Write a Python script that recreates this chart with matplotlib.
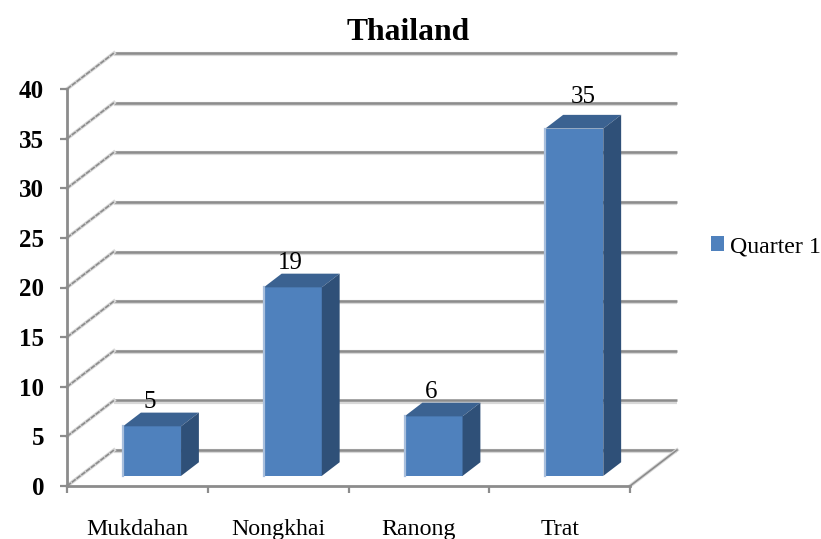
#!/usr/bin/env python
"""Thailand quarter 1 bar chart, drawn in the old office 3D look."""

import matplotlib
matplotlib.use('Agg')
import matplotlib.pyplot as plt
from matplotlib.patches import Polygon

categories = ['Mukdahan', 'Nongkhai', 'Ranong', 'Trat']
quarter1 = [5, 19, 6, 35]
y_ticks = [0, 5, 10, 15, 20, 25, 30, 35, 40]
series_name = 'Quarter 1'

plt.rcParams['font.family'] = ['Liberation Serif', 'DejaVu Serif']

W, H = 821, 539
GRID = '#8c8c8c'
SHADOW = '#d8d8d8'
FRONT = '#4f81bd'
TOP = '#3b6291'
SIDE = '#2f5078'
EDGE = '#a9bfdc'

fig = plt.figure(figsize=(W / 100, H / 100), dpi=100)
ax = fig.add_axes([67 / W, (H - 486) / H, 563 / W, 397 / H])
ax.set_xlim(0, len(categories))
ax.set_ylim(0, 40)

# pixel sizes converted to data units
px_x = len(categories) / 563
px_y = 40 / 397
depth_x = 47 * px_x
depth_y = 36 * px_y


def project(x, y, depth):
    """Move a point from the front plane towards the back wall."""
    return (x + depth * depth_x, y + depth * depth_y)


# back wall gridlines and the slanted lines on the side wall
for v in y_ticks:
    for color, lw, off in [(SHADOW, 3.0, -1.2), (GRID, 1.8, 0)]:
        xb, yb = project(0, v + off * px_y, 1)
        xe, ye = project(len(categories), v + off * px_y, 1)
        ax.plot([xb, xe], [yb, ye], color=color, lw=lw, zorder=1,
                clip_on=False, solid_capstyle='butt')
    xb, yb = project(0, v, 1)
    ax.plot([0, xb], [v, yb], color=SHADOW, lw=2.6, zorder=1, clip_on=False)
    ax.plot([0, xb], [v, yb], color=GRID, lw=1.2, ls=(0, (3, 0.6)), zorder=1.1, clip_on=False)

# floor edge on the right
xb, yb = project(len(categories), 0, 1)
ax.plot([len(categories), xb], [0, yb], color=SHADOW, lw=2.6, zorder=1, clip_on=False)
ax.plot([len(categories), xb], [0, yb], color=GRID, lw=1.2, zorder=1.1, clip_on=False)

# bars
bar_w = 58 * px_x
for i, v in enumerate(quarter1):
    x0 = i + 0.5 + 1.5 * px_x - bar_w / 2
    x1 = x0 + bar_w
    d0, d1 = 0.28, 0.66
    fl = project(x0, 0, d0)
    fr = project(x1, 0, d0)
    tl = project(x0, v, d0)
    tr = project(x1, v, d0)
    bl = project(x0, v, d1)
    br = project(x1, v, d1)
    br0 = project(x1, 0, d1)
    ax.add_patch(Polygon([fl, fr, tr, tl], fc=FRONT, ec='none', zorder=3, clip_on=False))
    ax.plot([fl[0], tl[0]], [fl[1], tl[1]], color=EDGE, lw=1.6, zorder=3.2, clip_on=False)
    ax.add_patch(Polygon([tl, tr, br, bl], fc=TOP, ec='none', zorder=3, clip_on=False))
    ax.add_patch(Polygon([fr, br0, br, tr], fc=SIDE, ec='none', zorder=3, clip_on=False))
    # value label sits a bit above the bar top
    lift = 32 if v == max(quarter1) else 24
    shift = 9 if v == max(quarter1) else -2
    ax.annotate(str(v), xy=tl, xytext=((58 / 2 + shift) * 0.72, lift * 0.72),
                textcoords='offset points', ha='center', va='center',
                fontsize=18, color='black', zorder=4, annotation_clip=False)

# real axes
for side in ['top', 'right']:
    ax.spines[side].set_visible(False)
for side in ['left', 'bottom']:
    ax.spines[side].set_color(GRID)
    ax.spines[side].set_linewidth(2.0)
    ax.spines[side].set_zorder(2)
ax.patch.set_visible(False)

ax.set_yticks(y_ticks)
ax.set_yticklabels([str(v) for v in y_ticks], fontsize=18, fontweight='bold')
ax.tick_params(axis='y', length=5, width=1.6, color=GRID, pad=11.5)
ax.set_xticks(range(len(categories) + 1))
ax.set_xticklabels([])
ax.tick_params(axis='x', which='major', length=5, width=1.6, color=GRID)
ax.set_xticks([i + 0.5 for i in range(len(categories))], minor=True)
ax.set_xticklabels(categories, minor=True, fontsize=17.2)
ax.tick_params(axis='x', which='minor', length=0, pad=24)

fig.text(408 / W, 1 - 33 / H, 'Thailand', fontsize=22.8, fontweight='bold', ha='center', va='center')

# legend
leg = ax.bar([0], [0], color=FRONT, label=series_name)
ax.legend(handles=[leg], loc='center left', bbox_to_anchor=(711 / W, 1 - 246.5 / H),
          bbox_transform=fig.transFigure, frameon=False, fontsize=17.2,
          handlelength=0.55, handleheight=0.6, handletextpad=0.25,
          borderpad=0, borderaxespad=0)

fig.savefig('out.png', dpi=100)
